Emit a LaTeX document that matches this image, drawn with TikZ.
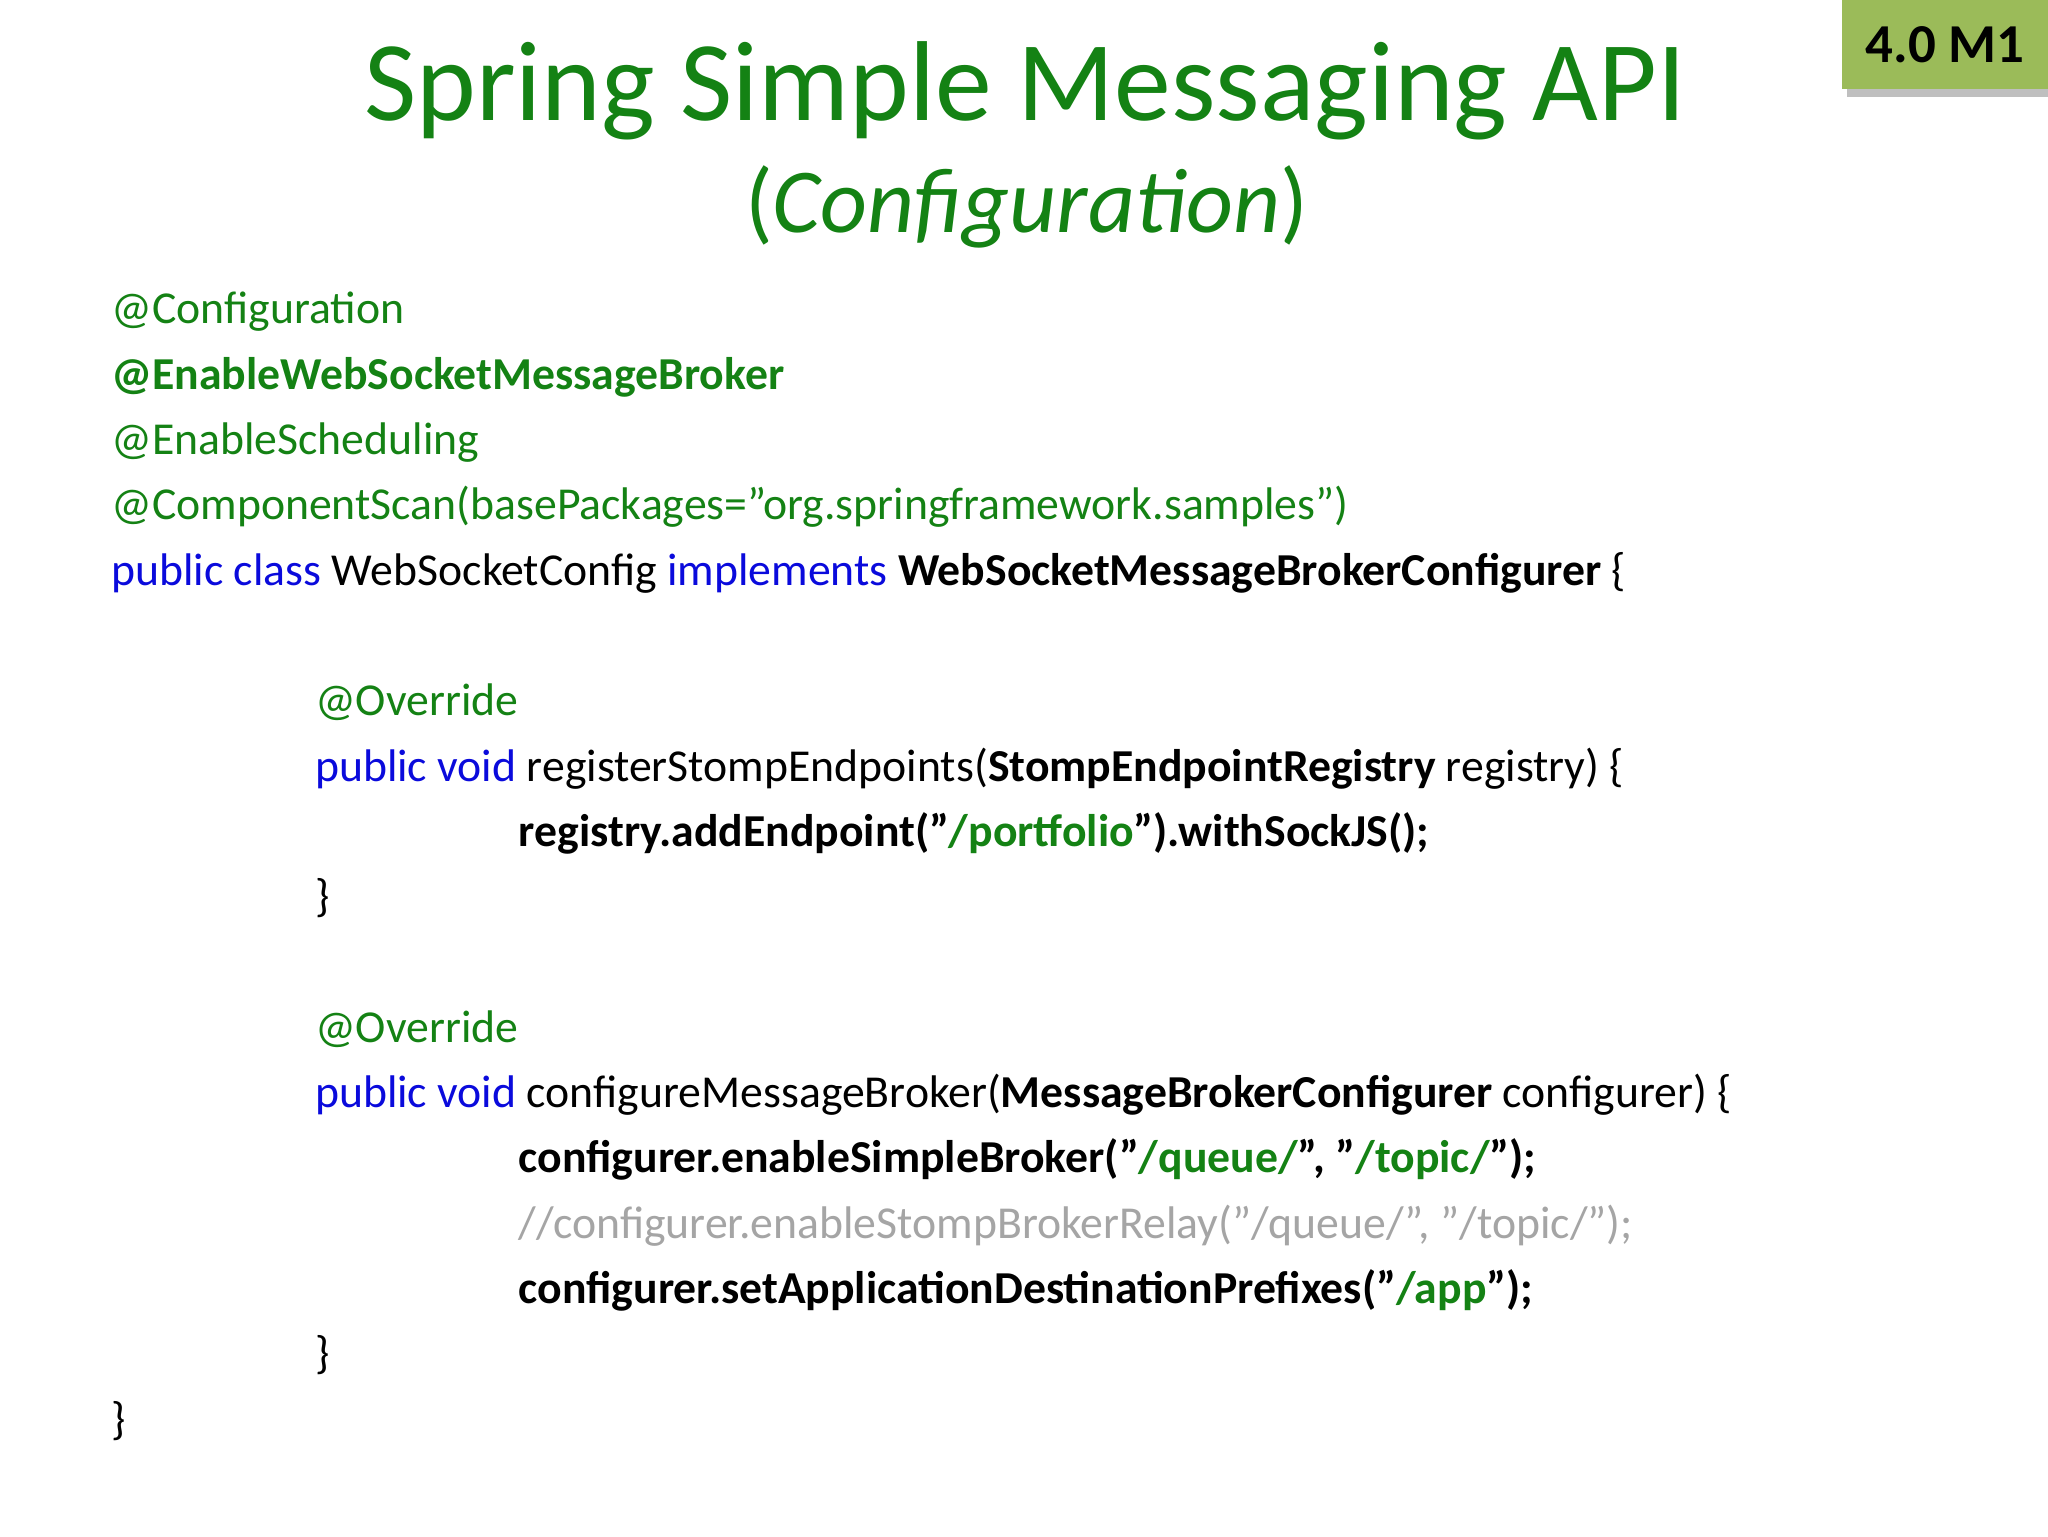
\documentclass[tikz,border=0pt]{standalone}
\usepackage{fontspec}
\setmainfont{Carlito}
\definecolor{kgreen}{RGB}{20,130,20}
\definecolor{kblue}{RGB}{10,10,220}
\definecolor{kgray}{RGB}{165,165,165}
\definecolor{badge}{RGB}{155,187,89}
\newcommand\qq{\char34\relax}
\begin{document}
\begin{tikzpicture}[x=1pt,y=-1pt,
  code/.style={anchor=base west,inner sep=0,font=\fontsize{35}{40}\selectfont},
  codeb/.style={code,font=\fontsize{35}{40}\selectfont\bfseries},
  ttl/.style={anchor=base,inner sep=0,text=kgreen}]
\useasboundingbox (0,0) rectangle (1568,1176);
\fill[white] (0,0) rectangle (1568,1176);
\fill[gray!50] (1414,4) rectangle (1572,74);
\node[fill=badge,minimum width=158,minimum height=68,anchor=north west,inner sep=0,font=\fontsize{42}{44}\selectfont\bfseries] (badge) at (1410,0) {4.0 M1};
\node[ttl,font=\fontsize{87}{95}\selectfont] (title) at (785,92) {Spring Simple Messaging API};
\node[ttl,font=\fontsize{70}{78}\selectfont] (sub) at (786,178) {(\textit{Configuration})};
\node[code,text=kgreen] (l1) at (85,248) {@Configuration};
\node[codeb,text=kgreen] (l2) at (85,298) {@EnableWebSocketMessageBroker};
\node[code,text=kgreen] (l3) at (85,348) {@EnableScheduling};
\node[code,text=kgreen] (l4) at (85,398) {@ComponentScan(basePackages=\qq org.springframework.samples\qq)};
\node[code] (l5) at (85,448) {\textcolor{kblue}{public class} WebSocketConfig \textcolor{kblue}{implements} \textbf{WebSocketMessageBrokerConfigurer} \{};
\node[code,text=kgreen] (l6) at (241,548) {@Override};
\node[code] (l7) at (241,598) {\textcolor{kblue}{public void} registerStompEndpoints(\textbf{StompEndpointRegistry} registry) \{};
\node[codeb] (l8) at (397,648) {registry.addEndpoint(\qq\textcolor{kgreen}{/portfolio}\qq).withSockJS();};
\node[code] (l9) at (241,698) {\}};
\node[code,text=kgreen] (l10) at (241,798) {@Override};
\node[code] (l11) at (241,848) {\textcolor{kblue}{public void} configureMessageBroker(\textbf{MessageBrokerConfigurer} configurer) \{};
\node[codeb] (l12) at (397,898) {configurer.enableSimpleBroker(\qq\textcolor{kgreen}{/queue/}\qq, \qq\textcolor{kgreen}{/topic/}\qq);};
\node[code,text=kgray] (l13) at (397,948) {//configurer.enableStompBrokerRelay(\qq/queue/\qq, \qq/topic/\qq);};
\node[codeb] (l14) at (397,998) {configurer.setApplicationDestinationPrefixes(\qq\textcolor{kgreen}{/app}\qq);};
\node[code] (l15) at (241,1048) {\}};
\node[code] (l16) at (85,1098) {\}};
\end{tikzpicture}
\end{document}
